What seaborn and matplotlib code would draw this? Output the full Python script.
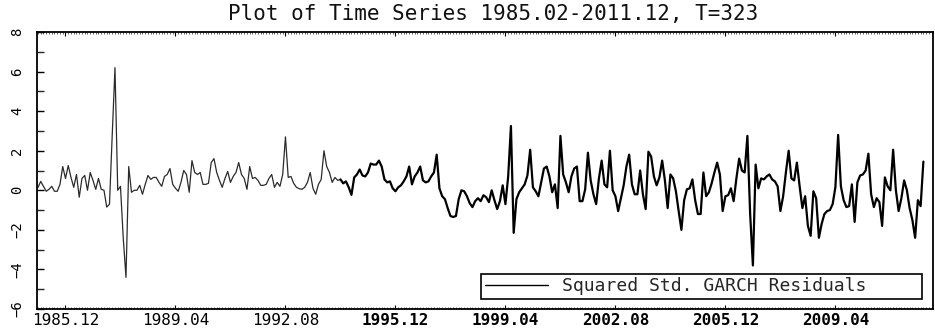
import numpy as np
import pandas as pd
import matplotlib
matplotlib.use("Agg")
import matplotlib.pyplot as plt
import seaborn as sns
from matplotlib.lines import Line2D
from matplotlib.ticker import MultipleLocator

title_text = "Plot of Time Series 1985.02-2011.12, T=323"
series_name = "Squared Std. GARCH Residuals"
tick_positions = [10, 50, 90, 130, 170, 210, 250, 290]
tick_labels = ["1985.12", "1989.04", "1992.08", "1995.12",
               "1999.04", "2002.08", "2005.12", "2009.04"]

values_1985_1989 = [
    0.15, 0.45, 0.2, -0.05, 0.05, 0.2, -0.05, -0.05, 0.3, 1.2,
    0.6, 1.25, 0.65, 0.15, 0.8, -0.35, 0.6, 0.75, 0.0, 0.9,
    0.5, 0.05, 0.6, 0.05, 0.0, -0.85, -0.7, 2.8, 6.2, 0.0,
    0.2, -2.4, -4.4, 1.2, -0.1, 0.0, 0.0, 0.25, -0.2, 0.3,
    0.75, 0.55, 0.65, 0.65, 0.4, 0.2, 0.7, 0.8, 1.1, 0.3,
]
values_1989_1992 = [
    0.1, -0.05, 0.4, 1.0, 0.8, -0.1, 1.5, 0.9, 0.8, 0.9,
    0.3, 0.3, 0.35, 1.4, 1.6, 0.9, 0.5, 0.15, 0.6, 0.95,
    0.4, 0.7, 0.9, 1.4, 0.8, 0.6, 0.05, 1.2, 0.6, 0.65,
    0.5, 0.25, 0.25, 0.3, 0.6, 0.8, 0.15, 0.4, 0.2, 0.8,
]
values_1992_1995 = [
    2.7, 0.65, 0.7, 0.35, 0.15, 0.08, 0.05, 0.15, 0.4, 0.9,
    0.1, -0.2, 0.3, 0.55, 2.0, 1.2, 0.9, 0.4, 0.65, 0.5,
    0.55, 0.35, 0.45, 0.15, -0.23, 0.65, 0.8, 1.05, 0.75, 0.7,
    0.9, 1.35, 1.3, 1.3, 1.5, 1.2, 0.55, 0.4, 0.45, 0.1,
]
values_1995_1999 = [
    -0.05, 0.15, 0.25, 0.45, 0.7, 1.2, 0.3, 0.7, 0.9, 1.2,
    0.5, 0.4, 0.45, 0.7, 0.9, 1.8, 0.1, -0.3, -0.45, -0.9,
    -1.3, -1.35, -1.3, -0.45, 0.0, -0.05, -0.3, -0.65, -0.85, -0.55,
    -0.4, -0.55, -0.25, -0.35, -0.6, 0.0, -0.5, -0.95, -0.55, 0.25,
]
values_1999_2002 = [
    -0.7, 0.7, 3.25, -2.15, -0.45, -0.1, 0.1, 0.3, 0.75, 2.05,
    0.15, -0.05, -0.3, 0.4, 1.1, 1.2, 0.7, -0.1, 0.3, -0.9,
    2.75, 0.8, 0.4, -0.1, 0.7, 1.1, 1.2, -0.55, -0.55, 0.05,
    1.9, 0.5, -0.2, -0.7, 0.6, 1.5, 0.3, 0.15, 2.0, 0.0,
]
values_2002_2005 = [
    -0.3, -1.05, -0.4, 0.25, 1.2, 1.8, 0.3, -0.2, -0.2, 1.0,
    -0.2, -0.95, 1.95, 1.7, 0.7, 0.25, 0.65, 1.5, 0.5, -0.9,
    0.8, 0.6, -0.05, -1.05, -2.0, -0.5, 0.05, 0.1, 0.55, -0.5,
    -1.2, -1.2, 0.9, -0.3, -0.1, 0.35, 0.9, 1.4, 0.8, -1.05,
]
values_2005_2009 = [
    -0.3, -0.25, 0.1, -0.55, 0.6, 1.6, 1.0, 0.9, 2.75, -1.2,
    -3.8, 1.3, 0.1, 0.6, 0.55, 0.7, 0.8, 0.55, 0.45, 0.2,
    -1.05, -0.3, 0.9, 2.0, 0.6, 0.5, 1.4, 0.2, -0.9, -0.3,
    -1.8, -2.3, -0.05, -0.4, -2.4, -1.7, -1.2, -1.05, -1.0, -0.7,
]
values_2009_2011 = [
    0.15, 2.8, 0.2, -0.5, -0.85, -0.8, 0.3, -1.6, 0.4, 0.75,
    0.8, 1.0, 1.85, -0.2, -0.85, -0.4, -0.6, -1.8, 0.65, 0.2,
    0.0, 2.05, 0.0, -1.05, -0.4, 0.5, 0.0, -0.9, -1.5, -2.4,
    -0.5, -0.8, 1.45,
]

values = (values_1985_1989 + values_1989_1992 + values_1992_1995 +
          values_1995_1999 + values_1999_2002 + values_2002_2005 +
          values_2005_2009 + values_2009_2011)

sns.set_theme(style="white")
plt.rcParams["font.family"] = ["DejaVu Sans Mono", "DejaVu Sans"]
plt.rcParams["axes.edgecolor"] = "black"

W, H = 935, 329
fig = plt.figure(figsize=(W / 100, H / 100), dpi=100)
fig.patch.set_facecolor("white")
ax = fig.add_axes([37 / W, 1 - 309 / H, (933 - 37) / W, (309 - 32) / H])
ax.set_facecolor("white")

df = pd.DataFrame({"t": np.arange(len(values)), "v": values})
split = 110
sns.lineplot(data=df.iloc[:split + 1], x="t", y="v", ax=ax,
             color="#2b2b2b", linewidth=0.9)
sns.lineplot(data=df.iloc[split:], x="t", y="v", ax=ax,
             color="black", linewidth=1.6)

ax.set_xlim(-0.36, 325.5)
ax.set_ylim(-6, 8)
ax.set_xlabel("")
ax.set_ylabel("")

for s in ax.spines.values():
    s.set_color("black")
    s.set_linewidth(1.3)

ax.set_xticks(tick_positions)
ax.set_xticklabels(tick_labels, fontsize=11.5)
for lbl in ax.get_xticklabels()[3:]:
    lbl.set_fontweight("bold")
ax.xaxis.set_minor_locator(MultipleLocator(1))
ax.tick_params(axis="x", which="major", direction="in", length=3, width=0.8,
               top=True, bottom=True, pad=3, colors="black")
ax.tick_params(axis="x", which="minor", direction="in", length=1.5, width=0.5,
               top=True, bottom=True)

ax.yaxis.set_major_locator(MultipleLocator(2))
ax.yaxis.set_minor_locator(MultipleLocator(1))
ax.tick_params(axis="y", which="major", direction="in", length=5, width=1.0,
               left=True, right=False, pad=9, labelsize=10, colors="black")
ax.tick_params(axis="y", which="minor", direction="in", length=5, width=1.0,
               left=True, right=False)
for lbl in ax.get_yticklabels():
    lbl.set_rotation(90)
    lbl.set_va("center")

fig.text(493 / W, 1 - 14 / H, title_text, ha="center", va="center",
         fontsize=15, color="#111111")

handle = Line2D([], [], color="black", linewidth=1.0)
leg = ax.legend(handles=[handle], labels=[series_name], loc="lower left",
                bbox_to_anchor=(481 / W, 1 - 299 / H, 441 / W, 26 / H),
                bbox_transform=fig.transFigure, mode="expand",
                borderaxespad=0, borderpad=0.2, handlelength=3.5,
                handletextpad=0.8, fancybox=False, frameon=True,
                edgecolor="black", fontsize=13)
leg.get_frame().set_linewidth(1.2)
leg.get_frame().set_facecolor("white")
leg.get_frame().set_alpha(1)

fig.savefig("out.png", dpi=100, facecolor="white")
